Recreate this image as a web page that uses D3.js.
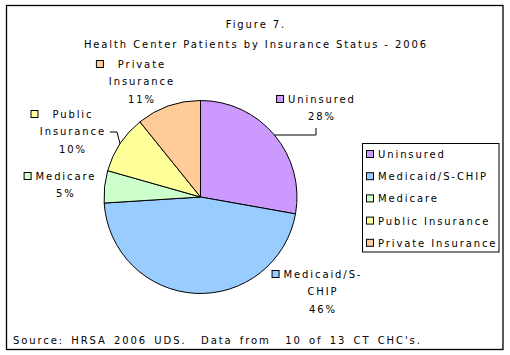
<!DOCTYPE html>
<html><head><meta charset="utf-8">
<script src="https://cdn.jsdelivr.net/npm/d3@7"></script>
<style>
html,body{margin:0;padding:0;background:#fff;}
svg text{font-family:"DejaVu Sans",Verdana,sans-serif;font-size:10px;letter-spacing:1.9px;fill:#000;}
</style></head>
<body>
<svg id="c" width="510" height="355"></svg>
<script>
// ---- data ----
const categories = ["Uninsured", "Medicaid/S-CHIP", "Medicare", "Public Insurance", "Private Insurance"];
const values = [27.8, 46.2, 5.4, 9.8, 10.8];
const pctLabels = ["28%", "46%", "5%", "10%", "11%"];
const colors = ["#CC99FF", "#99CCFF", "#CCFFCC", "#FFFF99", "#FFCC99"];
const titleLines = ["Figure 7.", "Health Center Patients by Insurance Status - 2006"];
const sourceText = "Source: HRSA 2006 UDS.  Data from  10 of 13 CT CHC's.";
// data-label line breaks (text only)
const labelLines = [["Uninsured"], ["Medicaid/S-", "CHIP"], ["Medicare"], ["Public", "Insurance"], ["Private", "Insurance"]];

// ---- layout ----
const svg = d3.select("#c");
const cx = 200.5, cy = 197, R = 96.5;
const labelLayout = [
  {x: 321, y: 103, leader: [[316, 135], [316, 128]]},
  {x: 322, y: 278},
  {x: 65, y: 180},
  {x: 72, y: 118, leader: [[117, 132], [110, 132]]},
  {x: 141, y: 68}
];

svg.append("rect").attr("x", 6.5).attr("y", 5.5).attr("width", 496.5).attr("height", 344)
  .attr("fill", "#fff").attr("stroke", "#000").attr("stroke-width", 1.3);

function centered(g, x, y, t) {
  return g.append("text").attr("x", x).attr("y", y).attr("dx", 0.95)
    .attr("text-anchor", "middle").text(t);
}

const tg = svg.append("g");
titleLines.forEach((t, i) => centered(tg, 255, 28 + i * 19.5, t));

const pie = d3.pie().sort(null).value(d => d).startAngle(0).endAngle(2 * Math.PI);
const arcs = pie(values);
const arc = d3.arc().innerRadius(0).outerRadius(R);

const pg = svg.append("g").attr("transform", `translate(${cx},${cy})`);
pg.selectAll("path").data(arcs).join("path")
  .attr("d", arc)
  .attr("fill", (d, i) => colors[i])
  .attr("stroke", "#000").attr("stroke-width", 1).attr("stroke-linejoin", "round");

arcs.forEach((a, i) => {
  const L = labelLayout[i];
  if (!L.leader) return;
  const m = (a.startAngle + a.endAngle) / 2;
  const p0 = [cx + R * Math.sin(m), cy - R * Math.cos(m)];
  svg.append("path").attr("d", d3.line()([p0].concat(L.leader)))
    .attr("fill", "none").attr("stroke", "#000").attr("stroke-width", 1);
});

const lg = svg.append("g");
arcs.forEach((a, i) => {
  const L = labelLayout[i];
  const lines = labelLines[i].concat([pctLabels[i]]);
  const lh = 17.3;
  lines.forEach((t, j) => {
    const txt = centered(lg, L.x, L.y + j * lh, t);
    if (j === 0) {
      const w = txt.node().getComputedTextLength();
      const gap = i === 3 || i === 4 ? 12 : 2;
      lg.append("rect").attr("x", L.x - w / 2 - gap - 8.5).attr("y", L.y - 7.5)
        .attr("width", 7).attr("height", 7)
        .attr("fill", colors[i]).attr("stroke", "#000").attr("stroke-width", 1);
    }
  });
});

const leg = svg.append("g");
leg.append("rect").attr("x", 362.5).attr("y", 143.5).attr("width", 136.5).attr("height", 108.5)
  .attr("fill", "#fff").attr("stroke", "#000").attr("stroke-width", 1);
categories.forEach((c, i) => {
  const by = 158 + i * 22.2;
  leg.append("rect").attr("x", 366.5).attr("y", by - 7.5).attr("width", 7).attr("height", 7)
    .attr("fill", colors[i]).attr("stroke", "#000").attr("stroke-width", 1);
  leg.append("text").attr("x", 378).attr("y", by).text(c);
});

svg.append("text").attr("x", 13).attr("y", 344).attr("xml:space", "preserve")
  .style("white-space", "pre").style("word-spacing", "2.2px").text(sourceText);
</script>
</body></html>
